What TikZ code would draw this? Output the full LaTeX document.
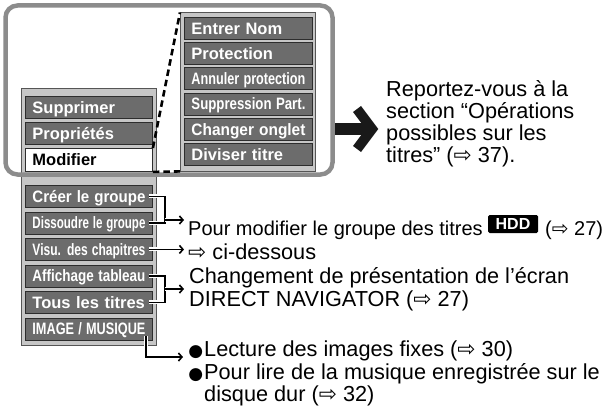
\documentclass[tikz,border=0pt]{standalone}
\usepackage{fontspec}
\setmainfont{Liberation Sans}
\newfontfamily\symfont{DejaVu Sans}
\usetikzlibrary{arrows.meta}
\definecolor{itemfill}{RGB}{108,108,108}
\definecolor{itemborder}{RGB}{45,45,45}
\definecolor{panelfill}{RGB}{198,198,198}
\definecolor{panelborder}{RGB}{85,85,85}
\definecolor{framecol}{RGB}{140,140,140}
\newsavebox\fitsbox
\newcommand\fitw[2]{\sbox\fitsbox{#2}\ifdim\wd\fitsbox>#1\relax\resizebox{#1}{\ht\fitsbox}{\usebox\fitsbox}\else\usebox\fitsbox\fi}
\newcommand\rarr{{\symfont ⇨}}
\newcommand\bul{\makebox[11pt][c]{\symfont\fontsize{17}{17}\selectfont ●}\hspace{3pt}}
\tikzset{
  item/.style={draw=itemborder, fill=itemfill, line width=0.9pt, text=white,
    font=\bfseries\fontsize{16.5}{16.5}\selectfont, text width=113pt, align=left,
    inner xsep=7pt, inner ysep=0pt, minimum height=22pt, text height=11.8pt,
    text depth=0pt, anchor=north west},
  ritem/.style={item, text width=114pt},
  selitem/.style={item, fill=white, text=black, minimum height=23pt},
  panel/.style={draw=panelborder, fill=panelfill, line width=0.9pt, inner sep=0pt, anchor=north west},
  frame/.style={draw=framecol, line width=4.5pt, rounded corners=12pt},
  dashline/.style={draw=black, line width=2.6pt, dash pattern=on 6.5pt off 4pt},
  bracket/.style={draw=black, line width=1.6pt, preaction={draw=white, line width=4pt}},
  arr/.style={bracket, -{Straight Barb[length=3.5pt,width=8pt]}},
  mtext/.style={font=\fontsize{21.7}{22}\selectfont, anchor=base west, inner sep=0pt},
  stext/.style={mtext, font=\fontsize{20}{20}\selectfont},
  badge/.style={fill=black, text=white, rounded corners=1.5pt, font=\bfseries\fontsize{16}{16}\selectfont,
    minimum width=50pt, minimum height=18pt, inner sep=0pt, text height=11.5pt, text depth=0pt},
  bigshaft/.style={draw=black!90, line width=12pt},
  bighead/.style={draw=black!90, line width=10pt, miter limit=4},
}
\begin{document}
\begin{tikzpicture}[x=1pt,y=-1pt]
\useasboundingbox (0,0) rectangle (604,409);
% panels
\node[panel, minimum width=135pt, minimum height=257pt] (lp) at (20.5,88) {};
\node[panel, minimum width=135pt, minimum height=158pt] (rp) at (180,12.5) {};
% left items
\node[item] (sup) at (25,96) {\fitw{113pt}{Supprimer}};
\node[item] (pro) at (25,122) {\fitw{113pt}{Propriétés}};
\node[selitem] (mod) at (25,148) {\fitw{113pt}{Modifier}};
\node[item] (cre) at (25,185) {\fitw{113pt}{Créer le groupe}};
\node[item] (dis) at (25,211.5) {\fitw{113pt}{Dissoudre le groupe}};
\node[item] (vis) at (25,238) {\fitw{113pt}{Visu. des chapitres}};
\node[item] (aff) at (25,264.5) {\fitw{113pt}{Affichage tableau}};
\node[item] (tou) at (25,291) {\fitw{113pt}{Tous les titres}};
\node[item] (img) at (25,317.5) {\fitw{113pt}{IMAGE / MUSIQUE}};
% right items
\node[ritem] (ent) at (184,17) {\fitw{114pt}{Entrer Nom}};
\node[ritem] (prot) at (184,42.2) {\fitw{114pt}{Protection}};
\node[ritem] (ann) at (184,67.4) {\fitw{114pt}{Annuler protection}};
\node[ritem] (supp) at (184,92.6) {\fitw{114pt}{Suppression Part.}};
\node[ritem] (chg) at (184,117.8) {\fitw{114pt}{Changer onglet}};
\node[ritem] (div) at (184,143) {\fitw{114pt}{Diviser titre}};
% frame
\draw[frame] (5.5,5.5) rectangle (332.5,174.5);
% dashed zoom lines
\draw[dashline] (mod.north east) -- (rp.north west);
\draw[dashline] (mod.south east) -- (rp.south west);
% big arrow
\coordinate (ba0) at (335,129);
\coordinate (ba1) at (366,129);
\coordinate (bh1) at (357,109);
\coordinate (bh2) at (372,129);
\coordinate (bh3) at (357,149);
\draw[bigshaft] (ba0) -- (ba1);
\draw[bighead] (bh1) -- (bh2) -- (bh3);
% right text
\node[mtext] (r1) at (386,96) {Reportez-vous à la};
\node[mtext] (r2) at (386,118) {section “Opérations};
\node[mtext] (r3) at (386,140) {possibles sur les};
\node[mtext] (r4) at (386,162) {titres” (\rarr\ 37).};
% middle texts
\node[stext] (m1) at (188,235) {Pour modifier le groupe des titres};
\node[badge] (hdd) at (513,224) {HDD};
\node[stext] (m1b) at (545,235) {(\rarr\ 27)};
\node[mtext] (m2) at (188,259) {\rarr\ ci-dessous};
\node[mtext] (m3) at (189,283) {Changement de présentation de l’écran};
\node[mtext] (m4) at (189,306) {DIRECT NAVIGATOR (\rarr\ 27)};
\node[mtext] (m5) at (190,356) {\bul Lecture des images fixes (\rarr\ 30)};
\node[mtext] (m6) at (190,379) {\bul Pour lire de la musique enregistrée sur le};
\node[mtext] (m7) at (204,401) {disque dur (\rarr\ 32)};
% connectors
\coordinate (j1) at (165,210);
\coordinate (j1a) at (165,220);
\coordinate (e1) at (184,220);
\coordinate (j2) at (165,289);
\coordinate (e2) at (184,289);
\coordinate (e3) at (183,357);
\draw[bracket] ([xshift=-4pt]cre.east) -| (j1) |- ([xshift=-4pt]dis.east);
\draw[arr] (j1a) -- (e1);
\draw[arr] ([xshift=-4pt]vis.east) -- (vis.east -| e1);
\draw[bracket] ([xshift=-4pt]aff.east) -| (j2) |- ([xshift=-4pt]tou.east);
\draw[arr] (j2) -- (e2);
\draw[arr] ([shift={(-7,-4)}]img.south east) |- (e3);
\end{tikzpicture}
\end{document}
